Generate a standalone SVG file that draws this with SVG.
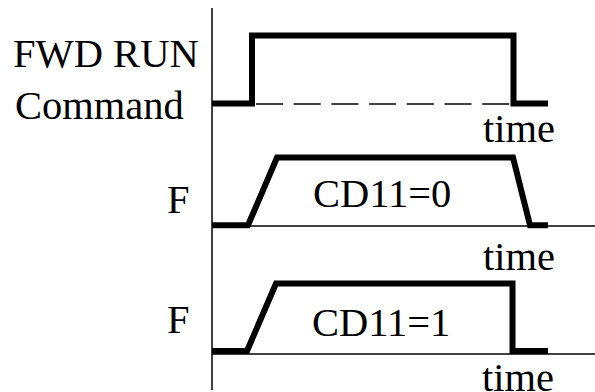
<svg xmlns="http://www.w3.org/2000/svg" width="595" height="392" viewBox="0 0 595 392">
<style>
text{font-family:"Liberation Serif","Times New Roman",serif;font-size:40.5px;fill:#000}
.wave{fill:none;stroke:#000;stroke-width:6;stroke-linejoin:miter;stroke-linecap:butt}
.thin{fill:none;stroke:#000;stroke-width:1.5}
</style>
<rect width="595" height="392" fill="#fff"/>
<g id="axis">
<line class="thin" x1="212" y1="8" x2="212" y2="390" stroke-width="2"/>
<line class="thin" x1="212" y1="226" x2="595" y2="226"/>
<line class="thin" x1="212" y1="354" x2="595" y2="354"/>
<line class="thin" x1="256" y1="104" x2="510" y2="104" stroke-dasharray="27 10.7"/>
</g>
<g id="fwd-run">
<text x="13" y="67">FWD RUN</text>
<text x="15" y="119">Command</text>
<path class="wave" d="M212,103.5 H252 V35.5 H513.5 V103.5 H548"/>
<text x="483" y="142">time</text>
</g>
<g id="cd11-0">
<text x="167" y="213">F</text>
<path class="wave" d="M212,225.3 H248 L277,157.5 H513 L530,225.3 H548"/>
<text x="313" y="207">CD11=0</text>
<text x="483" y="270">time</text>
</g>
<g id="cd11-1">
<text x="167" y="333">F</text>
<path class="wave" d="M212,351 H247 L276,283.5 H512.5 V351 H548"/>
<text x="312" y="336">CD11=1</text>
<text x="482" y="391">time</text>
</g>
</svg>
